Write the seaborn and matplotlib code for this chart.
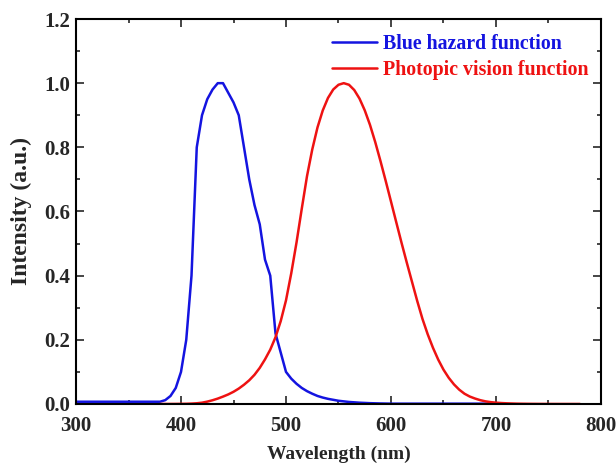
import matplotlib
matplotlib.use("Agg")
import matplotlib.pyplot as plt
import numpy as np
import pandas as pd
import seaborn as sns
from matplotlib.ticker import MultipleLocator, FormatStrFormatter

# blue light hazard function B(lambda)
blue_nm = [300, 380, 385, 390, 395, 400, 405, 410, 415, 420, 425, 430, 435, 440,
           445, 450, 455, 460, 465, 470, 475, 480, 485, 490, 495, 500, 505, 510,
           515, 520, 525, 530, 535, 540, 545, 550, 560, 570, 580, 590, 600, 700]
blue_val = [0.007, 0.007, 0.012, 0.025, 0.05, 0.10, 0.20, 0.40, 0.80, 0.90, 0.95,
            0.98, 1.00, 1.00, 0.97, 0.94, 0.90, 0.80, 0.70, 0.62, 0.56, 0.45,
            0.40, 0.22, 0.16, 0.10, 0.079, 0.063, 0.050, 0.040, 0.032, 0.025,
            0.020, 0.016, 0.013, 0.010, 0.0063, 0.004, 0.0025, 0.0016, 0.001, 0.001]

# photopic luminous efficiency V(lambda), 5 nm steps
red_nm = list(range(380, 785, 5))
red_val = [0.00004, 0.00006, 0.00012, 0.00022, 0.0004, 0.00064, 0.0012, 0.0022,
           0.004, 0.0073, 0.0116, 0.0168, 0.023, 0.0298, 0.038, 0.048, 0.060,
           0.0739, 0.091, 0.1126, 0.139, 0.1693, 0.208, 0.2586, 0.323, 0.4073,
           0.503, 0.6082, 0.710, 0.7932, 0.862, 0.9149, 0.954, 0.9803, 0.995,
           1.000, 0.995, 0.9786, 0.952, 0.9154, 0.870, 0.8163, 0.757, 0.6949,
           0.631, 0.5668, 0.503, 0.4412, 0.381, 0.321, 0.265, 0.217, 0.175,
           0.1382, 0.107, 0.0816, 0.061, 0.0446, 0.032, 0.0232, 0.017, 0.0119,
           0.0082, 0.0057, 0.0041, 0.0029, 0.0021, 0.0015, 0.001, 0.00074,
           0.00052, 0.00036, 0.00025, 0.00017, 0.00012, 0.000085, 0.00006,
           0.000042, 0.00003, 0.000021, 0.000015]

series_names = ["Blue hazard function", "Photopic vision function"]
series_colors = ["#1414e0", "#ee1212"]

df = pd.concat([
    pd.DataFrame({"nm": blue_nm, "val": blue_val, "series": series_names[0]}),
    pd.DataFrame({"nm": red_nm, "val": red_val, "series": series_names[1]}),
], ignore_index=True)

sns.set_style("ticks")
plt.rcParams["font.family"] = ["Liberation Serif", "DejaVu Serif"]
plt.rcParams["font.weight"] = "bold"
plt.rcParams["axes.labelweight"] = "bold"

fig = plt.figure(figsize=(6.16, 4.68), dpi=100)
ax = fig.add_axes([0.1234, 0.1368, 0.8522, 0.8226])

sns.lineplot(data=df, x="nm", y="val", hue="series", palette=dict(zip(series_names, series_colors)),
             estimator=None, sort=False, linewidth=1.8, ax=ax)

ax.set_xlim(300, 800)
ax.set_ylim(0, 1.2)
ax.xaxis.set_major_locator(MultipleLocator(100))
ax.xaxis.set_minor_locator(MultipleLocator(50))
ax.yaxis.set_major_locator(MultipleLocator(0.2))
ax.yaxis.set_minor_locator(MultipleLocator(0.1))
ax.yaxis.set_major_formatter(FormatStrFormatter("%.1f"))
ax.tick_params(which="both", direction="in", top=True, right=True, width=1.2, labelsize=15)
ax.tick_params(which="major", length=6)
ax.tick_params(which="minor", length=3)
ax.tick_params(axis="x", which="major", pad=8.5)
ax.tick_params(axis="y", which="major", pad=4)
for s in ax.spines.values():
    s.set_linewidth(1.5)
    s.set_color("black")

ax.set_xlabel("Wavelength (nm)", fontsize=14, labelpad=7)
ax.set_ylabel("Intensity (a.u.)", fontsize=17, labelpad=9)

leg = ax.legend(loc="upper right", bbox_to_anchor=(0.977, 0.962), frameon=False,
                fontsize=14.3, handlelength=2.3, handletextpad=0.3, labelspacing=0.32,
                borderaxespad=0, borderpad=0)
for txt, c in zip(leg.get_texts(), series_colors):
    txt.set_color(c)
    txt.set_fontweight("bold")

fig.savefig("out.png", dpi=100)
